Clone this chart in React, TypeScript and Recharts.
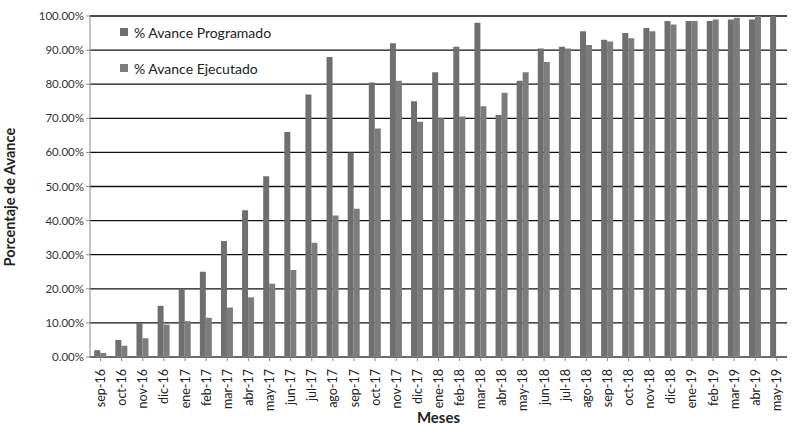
import { BarChart, Bar, XAxis, YAxis, CartesianGrid } from 'recharts'

const MONTHS = [
  'sep-16', 'oct-16', 'nov-16', 'dic-16', 'ene-17', 'feb-17', 'mar-17', 'abr-17', 'may-17',
  'jun-17', 'jul-17', 'ago-17', 'sep-17', 'oct-17', 'nov-17', 'dic-17', 'ene-18', 'feb-18',
  'mar-18', 'abr-18', 'may-18', 'jun-18', 'jul-18', 'ago-18', 'sep-18', 'oct-18', 'nov-18',
  'dic-18', 'ene-19', 'feb-19', 'mar-19', 'abr-19', 'may-19',
]

const PROGRAMADO = [
  2, 5, 10, 15, 20, 25, 34, 43, 53,
  66, 77, 88, 60, 80.5, 92, 75, 83.5, 91,
  98, 71, 81, 90.5, 91, 95.5, 93, 95, 96.5,
  98.5, 98.5, 98.5, 99, 99, 100,
]

const EJECUTADO: (number | null)[] = [
  1.2, 3.3, 5.5, 9.5, 10.5, 11.5, 14.5, 17.5, 21.5,
  25.5, 33.5, 41.5, 43.5, 67, 81, 69, 70, 70.5,
  73.5, 77.5, 83.5, 86.5, 90.5, 91.5, 92.5, 93.5, 95.5,
  97.5, 98.5, 99, 99.5, 100, null,
]

const Y_TICKS = [0, 10, 20, 30, 40, 50, 60, 70, 80, 90, 100]

const data = MONTHS.map((m, i) => ({ mes: m, prog: PROGRAMADO[i], ejec: EJECUTADO[i] }))

const FONT = 'Lato, "Open Sans", sans-serif'
const PROG_COLOR = '#6f6f6f'
const EJEC_COLOR = '#7c7c7c'

function XTick({ x, y, payload }: any) {
  return (
    <text
      x={x} y={y + 6} transform={`rotate(-90 ${x} ${y + 6})`}
      textAnchor="end" dominantBaseline="central"
      fontSize={12.5} fill="#222" fontFamily={FONT}
    >
      {payload.value}
    </text>
  )
}

export default function App() {
  return (
    <div style={{ position: 'absolute', left: 0, top: 0, width: 797, height: 428, background: '#fff', fontFamily: FONT }}>
      <BarChart
        width={797} height={428} data={data}
        margin={{ top: 16, right: 10, bottom: 0, left: 0 }}
        barCategoryGap="20%" barGap={0}
      >
        <CartesianGrid vertical={false} stroke="#111" strokeWidth={1.3} />
        <XAxis
          dataKey="mes" interval={0} height={71}
          tick={<XTick />} tickLine={{ stroke: '#888' }} tickSize={4}
          axisLine={{ stroke: '#888' }}
          label={{ value: 'Meses', position: 'insideBottom', offset: 5, fontSize: 15, fontWeight: 'bold', fill: '#222' }}
        />
        <YAxis
          width={90} domain={[0, 100]} ticks={Y_TICKS} interval={0}
          tickFormatter={(v: number) => `${v.toFixed(2)}%`}
          tick={{ fontSize: 11.5, fill: '#333', fontFamily: FONT }}
          tickLine={{ stroke: '#888' }} tickSize={4}
          axisLine={{ stroke: '#888' }}
          label={{ value: 'Porcentaje de Avance', angle: -90, position: 'insideLeft', offset: 10, dy: 80, fontSize: 14.5, fontWeight: 'bold', fill: '#222' }}
        />
        <Bar dataKey="prog" fill={PROG_COLOR} isAnimationActive={false} />
        <Bar dataKey="ejec" fill={EJEC_COLOR} isAnimationActive={false} />
      </BarChart>
      <div style={{ position: 'absolute', left: 120, top: 22, fontSize: 14, color: '#222' }}>
        <div style={{ display: 'flex', alignItems: 'center', height: 20 }}>
          <span style={{ width: 8, height: 8, background: PROG_COLOR, marginRight: 6, display: 'inline-block' }} />
          % Avance Programado
        </div>
        <div style={{ display: 'flex', alignItems: 'center', height: 20, marginTop: 16 }}>
          <span style={{ width: 8, height: 8, background: EJEC_COLOR, marginRight: 6, display: 'inline-block' }} />
          % Avance Ejecutado
        </div>
      </div>
    </div>
  )
}
